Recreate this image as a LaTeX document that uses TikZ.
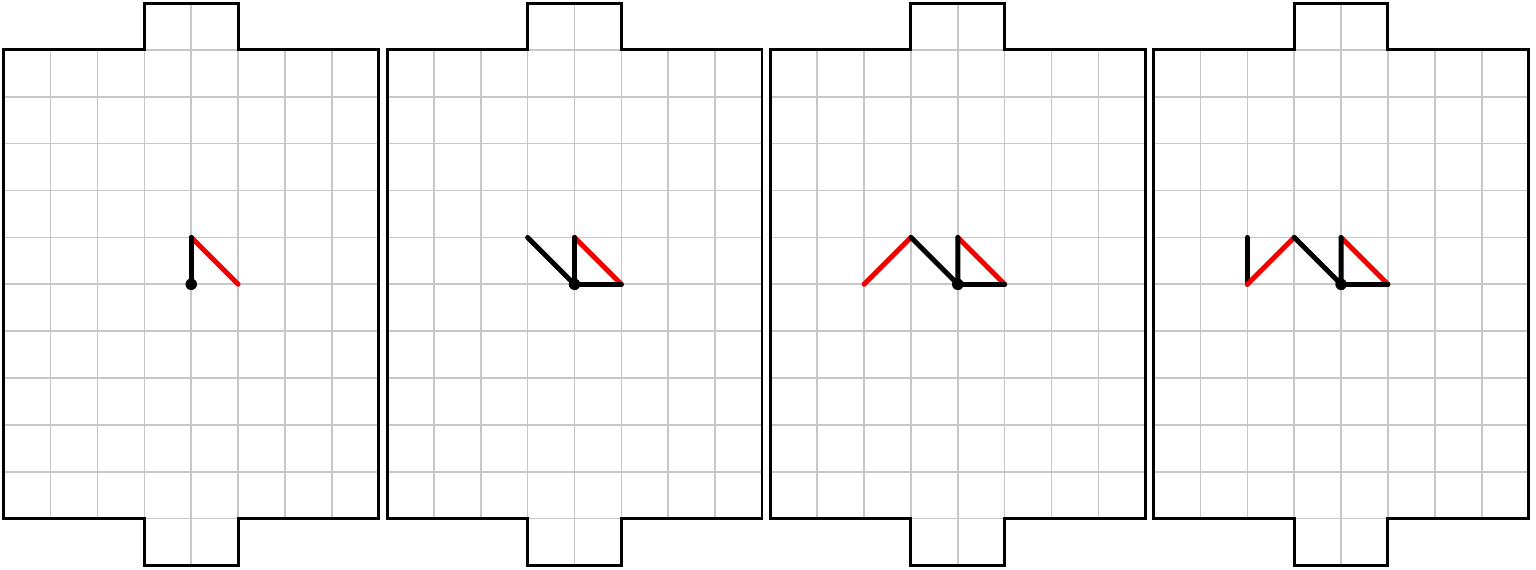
\documentclass[tikz,border=0pt]{standalone}
\usetikzlibrary{positioning}

\tikzset{
    cellgrid/.style={draw=black!22, line width=1pt},
    outline/.style={draw=black, line width=1.8pt, line join=miter},
    blackseg/.style={draw=black, line width=3pt, line cap=round},
    redseg/.style={draw=red!95!black, line width=3pt, line cap=round},
    startdot/.style={circle, fill=black, inner sep=0pt, minimum size=7pt}
}

% one board: grid with a tab on top and at the bottom
\newcommand{\board}{
    \draw[cellgrid] (0, 0) grid (8, 10);
    \draw[cellgrid] (3, -1) grid (5, 0);
    \draw[cellgrid] (3, 10) grid (5, 11);
    \draw[outline] (0, 0) -- (3, 0) -- (3, -1) -- (5, -1) -- (5, 0) -- (8, 0)
        -- (8, 10) -- (5, 10) -- (5, 11) -- (3, 11) -- (3, 10) -- (0, 10) -- cycle;
}

\begin{document}
\begin{tikzpicture}
    \useasboundingbox (-0.08, -1.08) rectangle (32.69, 11.065);

    % step 1
    \begin{scope}[xshift=0cm]
        \board
        \coordinate (s1) at (4, 5);
        \draw[redseg] (4, 6) -- (5, 5);
        \draw[blackseg] (s1) -- (4, 6);
        \node[startdot] (d1) at (s1) {};
    \end{scope}

    % step 2
    \begin{scope}[xshift=8.177cm]
        \board
        \coordinate (s2) at (4, 5);
        \draw[redseg] (4, 6) -- (5, 5);
        \draw[blackseg] (3, 6) -- (s2) -- (4, 6);
        \draw[blackseg] (s2) -- (5, 5);
        \node[startdot] (d2) at (s2) {};
    \end{scope}

    % step 3
    \begin{scope}[xshift=16.354cm]
        \board
        \coordinate (s3) at (4, 5);
        \draw[redseg] (2, 5) -- (3, 6);
        \draw[redseg] (4, 6) -- (5, 5);
        \draw[blackseg] (3, 6) -- (s3) -- (4, 6);
        \draw[blackseg] (s3) -- (5, 5);
        \node[startdot] (d3) at (s3) {};
    \end{scope}

    % step 4
    \begin{scope}[xshift=24.531cm]
        \board
        \coordinate (s4) at (4, 5);
        \draw[blackseg] (2, 6) -- (2, 5);
        \draw[redseg] (2, 5) -- (3, 6);
        \draw[redseg] (4, 6) -- (5, 5);
        \draw[blackseg] (3, 6) -- (s4) -- (4, 6);
        \draw[blackseg] (s4) -- (5, 5);
        \node[startdot] (d4) at (s4) {};
    \end{scope}

\end{tikzpicture}
\end{document}
